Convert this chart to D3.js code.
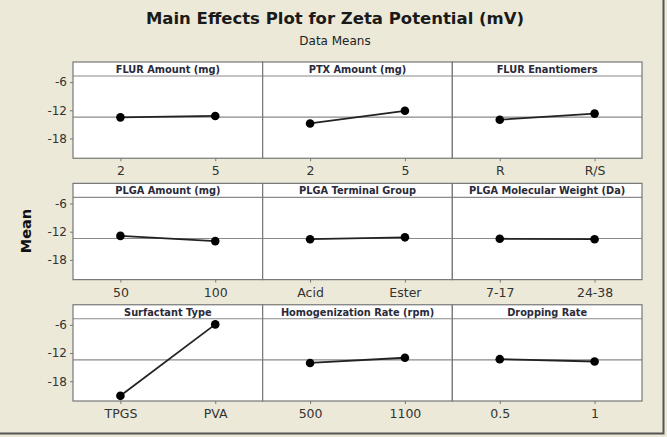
<!DOCTYPE html>
<html>
<head>
<meta charset="utf-8">
<script src="https://cdn.jsdelivr.net/npm/d3@7"></script>
<style>
  body { margin: 0; background: #ece9d8; }
  svg { display: block; }
</style>
</head>
<body>
<div id="chart"></div>
<script>
// Facteurs et niveaux
const factors = [
  'FLUR Amount (mg)', 'PTX Amount (mg)', 'FLUR Enantiomers',
  'PLGA Amount (mg)', 'PLGA Terminal Group', 'PLGA Molecular Weight (Da)',
  'Surfactant Type', 'Homogenization Rate (rpm)', 'Dropping Rate'
];
const levelLabels = [
  ['2', '5'], ['2', '5'], ['R', 'R/S'],
  ['50', '100'], ['Acid', 'Ester'], ['7-17', '24-38'],
  ['TPGS', 'PVA'], ['500', '1100'], ['0.5', '1']
];
const means = [
  [-13.5, -13.2], [-14.8, -12.1], [-14.0, -12.7],
  [-12.9, -14.0], [-13.6, -13.2], [-13.5, -13.6],
  [-21.1, -5.9], [-14.1, -13.0], [-13.3, -13.8]
];
const grandMean = -13.45;
const yTicks = [-6, -12, -18];
const yDomain = [-22.2, -4.7];

const width = 667, height = 437;
const stripH = 14;
const font = 'DejaVu Sans, sans-serif';

const svg = d3.select('#chart').append('svg')
  .attr('width', width)
  .attr('height', height);

// fond + cadre
svg.append('rect')
  .attr('width', width).attr('height', height)
  .attr('fill', '#ece9d8');
svg.append('path')
  .attr('d', `M${width - 3.5},0V${height - 3.5}H0`)
  .attr('fill', 'none')
  .attr('stroke', '#555')
  .attr('stroke-width', 2);

// Titre
svg.append('text')
  .attr('x', 335).attr('y', 24)
  .attr('text-anchor', 'middle')
  .style('font-family', font)
  .style('font-size', '16.5px')
  .style('font-weight', 'bold')
  .attr('fill', '#1a1a1a')
  .text('Main Effects Plot for Zeta Potential (mV)');

svg.append('text')
  .attr('x', 335).attr('y', 45)
  .attr('text-anchor', 'middle')
  .style('font-family', font)
  .style('font-size', '12px')
  .attr('fill', '#222')
  .text('Data Means');

// Label axe Y
svg.append('text')
  .attr('transform', 'rotate(-90)')
  .attr('x', -231).attr('y', 31)
  .attr('text-anchor', 'middle')
  .style('font-family', font)
  .style('font-size', '14.5px')
  .style('font-weight', 'bold')
  .attr('fill', '#111')
  .text('Mean');

// Grille de panneaux
const colScale = d3.scaleBand().domain([0, 1, 2]).range([73, 642]);
const rowScale = d3.scaleBand().domain([0, 1, 2]).range([62, 401]).paddingInner(0.207);

factors.forEach((name, i) => {
  const col = i % 3, row = Math.floor(i / 3);
  const x0 = colScale(col), w = colScale.bandwidth();
  const y0 = rowScale(row), h = rowScale.bandwidth();

  const x = d3.scalePoint().domain(levelLabels[i]).range([x0, x0 + w]).padding(0.5);
  const y = d3.scaleLinear().domain(yDomain).range([y0 + h, y0 + stripH]);

  const g = svg.append('g').attr('class', 'panel');

  g.append('rect')
    .attr('x', x0).attr('y', y0)
    .attr('width', w).attr('height', h)
    .attr('fill', '#fff');

  // ligne de référence (moyenne générale)
  g.append('line')
    .attr('x1', x0).attr('x2', x0 + w)
    .attr('y1', y(grandMean)).attr('y2', y(grandMean))
    .attr('stroke', '#8a8a8a')
    .attr('stroke-width', 1.2);

  // bandeau
  g.append('line')
    .attr('x1', x0).attr('x2', x0 + w)
    .attr('y1', y0 + stripH).attr('y2', y0 + stripH)
    .attr('stroke', '#8a8a8a')
    .attr('stroke-width', 1.2);

  g.append('text')
    .attr('x', x0 + w / 2).attr('y', y0 + 11)
    .attr('text-anchor', 'middle')
    .style('font-family', font)
    .style('font-size', '9.8px')
    .style('font-weight', 'bold')
    .attr('fill', '#2a2a3a')
    .text(name);

  // ligne + points
  const pts = levelLabels[i].map((l, k) => ({ level: l, value: means[i][k] }));
  g.append('path')
    .datum(pts)
    .attr('d', d3.line().x(d => x(d.level)).y(d => y(d.value)))
    .attr('fill', 'none')
    .attr('stroke', '#222')
    .attr('stroke-width', 1.8);

  g.selectAll('circle')
    .data(pts)
    .enter()
    .append('circle')
    .attr('cx', d => x(d.level))
    .attr('cy', d => y(d.value))
    .attr('r', 4.3)
    .attr('fill', '#000');

  // cadre du panneau
  g.append('rect')
    .attr('x', x0).attr('y', y0)
    .attr('width', w).attr('height', h)
    .attr('fill', 'none')
    .attr('stroke', '#777')
    .attr('stroke-width', 1.2);

  // axe X
  const xAxis = g.append('g')
    .attr('transform', `translate(0,${y0 + h})`)
    .call(d3.axisBottom(x).tickSize(3).tickPadding(5));
  xAxis.select('.domain').remove();
  xAxis.selectAll('line').attr('stroke', '#777');
  xAxis.selectAll('text')
    .style('font-family', font)
    .style('font-size', '12.5px')
    .attr('fill', '#333');

  // axe Y (colonne de gauche)
  if (col === 0) {
    const yAxis = g.append('g')
      .attr('transform', `translate(${x0},0)`)
      .call(d3.axisLeft(y).tickValues(yTicks).tickFormat(d => String(d)).tickSize(3).tickPadding(3));
    yAxis.select('.domain').remove();
    yAxis.selectAll('line').attr('stroke', '#777');
    yAxis.selectAll('text')
      .style('font-family', font)
      .style('font-size', '12px')
      .attr('fill', '#333');
  }
});
</script>
</body>
</html>
